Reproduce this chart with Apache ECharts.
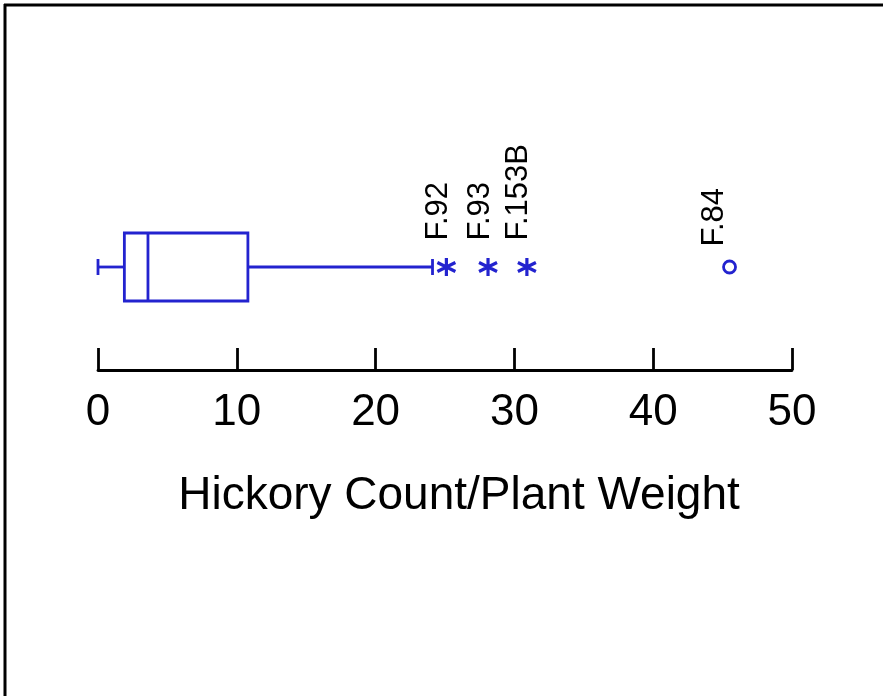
<!DOCTYPE html>
<html>
<head>
<meta charset="utf-8">
<script src="https://cdn.jsdelivr.net/npm/echarts@6/dist/echarts.min.js"></script>
<style>
  html, body { margin: 0; padding: 0; background: #fff; }
  #main { width: 883px; height: 696px; }
</style>
</head>
<body>
<div id="main"></div>
<script>
// data
var categories = ['Hickory'];
var boxStats = [0, 1.9, 3.6, 10.8, 24.1];          // min, Q1, median, Q3, max
var extremeNames = ['F.92', 'F.93', 'F.153B'];      // asterisks
var extremeValues = [25.1, 28.1, 30.9];
var outlierNames = ['F.84'];                        // circle
var outlierValues = [45.5];
var xMin = 0, xMax = 50, xStep = 10;

var blue = '#2323cf';
var font = 'Liberation Sans, Arial, sans-serif';

var myChart = echarts.init(document.getElementById('main'));

function pts(names, values) {
  var arr = [];
  for (var i = 0; i < values.length; i++) {
    arr.push({ name: names[i], value: [values[i], categories[0]] });
  }
  return arr;
}

var option = {
  backgroundColor: '#fff',
  animation: false,
  grid: { left: 98, right: 91, top: 164, bottom: 326 },
  xAxis: {
    type: 'value',
    min: xMin,
    max: xMax,
    interval: xStep,
    name: 'Hickory Count/Plant Weight',
    nameLocation: 'middle',
    nameGap: 103,
    nameTextStyle: { fontSize: 46, color: '#000', fontFamily: font, padding: [0, 0, 0, 28] },
    axisLine: { show: true, lineStyle: { color: '#000', width: 2.8 } },
    axisTick: { show: true, inside: true, length: 22, lineStyle: { color: '#000', width: 2.8 } },
    axisLabel: { fontSize: 44, color: '#000', margin: 21, fontFamily: font },
    splitLine: { show: false }
  },
  yAxis: {
    type: 'category',
    data: categories,
    show: false
  },
  graphic: [
    { type: 'line', shape: { x1: 4, y1: 5, x2: 883, y2: 5 }, style: { stroke: '#000', lineWidth: 3 } },
    { type: 'line', shape: { x1: 5, y1: 4, x2: 5, y2: 696 }, style: { stroke: '#000', lineWidth: 3 } }
  ],
  series: [
    {
      // box and whiskers drawn through the axis scales
      type: 'custom',
      data: [[0].concat(boxStats)],
      renderItem: function (params, api) {
        var y = api.coord([0, api.value(0)])[1];
        var p = [];
        for (var i = 1; i <= 5; i++) p.push(api.coord([api.value(i), 0])[0]);
        var hb = 34, hc = 8;
        var st = { stroke: blue, fill: 'none', lineWidth: 2.8 };
        return {
          type: 'group',
          children: [
            { type: 'line', shape: { x1: p[0], y1: y, x2: p[1], y2: y }, style: st },
            { type: 'line', shape: { x1: p[0], y1: y - hc, x2: p[0], y2: y + hc }, style: st },
            { type: 'rect', shape: { x: p[1], y: y - hb, width: p[3] - p[1], height: hb * 2 }, style: st },
            { type: 'line', shape: { x1: p[2], y1: y - hb, x2: p[2], y2: y + hb }, style: st },
            { type: 'line', shape: { x1: p[3], y1: y, x2: p[4], y2: y }, style: st },
            { type: 'line', shape: { x1: p[4], y1: y - hc, x2: p[4], y2: y + hc }, style: st }
          ]
        };
      }
    },
    {
      type: 'scatter',
      data: pts(extremeNames, extremeValues),
      symbol: 'path://M0,-1L0,1M-0.87,-0.5L0.87,0.5M-0.87,0.5L0.87,-0.5',
      symbolSize: 18,
      itemStyle: { color: 'none', borderColor: blue, borderWidth: 3.2, opacity: 1 },
      label: {
        show: true,
        formatter: '{b}',
        position: 'top',
        distance: 15,
        rotate: 90,
        align: 'left',
        verticalAlign: 'middle',
        offset: [0, -8],
        fontSize: 31,
        color: '#000',
        fontFamily: font
      }
    },
    {
      type: 'scatter',
      data: pts(outlierNames, outlierValues),
      symbol: 'circle',
      symbolSize: 12,
      itemStyle: { color: '#fff', borderColor: blue, borderWidth: 2.8, opacity: 1 },
      label: {
        show: true,
        formatter: '{b}',
        position: 'top',
        distance: 13,
        rotate: 90,
        align: 'left',
        verticalAlign: 'middle',
        offset: [0, -15],
        fontSize: 31,
        color: '#000',
        fontFamily: font
      }
    }
  ]
};

myChart.setOption(option);
</script>
</body>
</html>
